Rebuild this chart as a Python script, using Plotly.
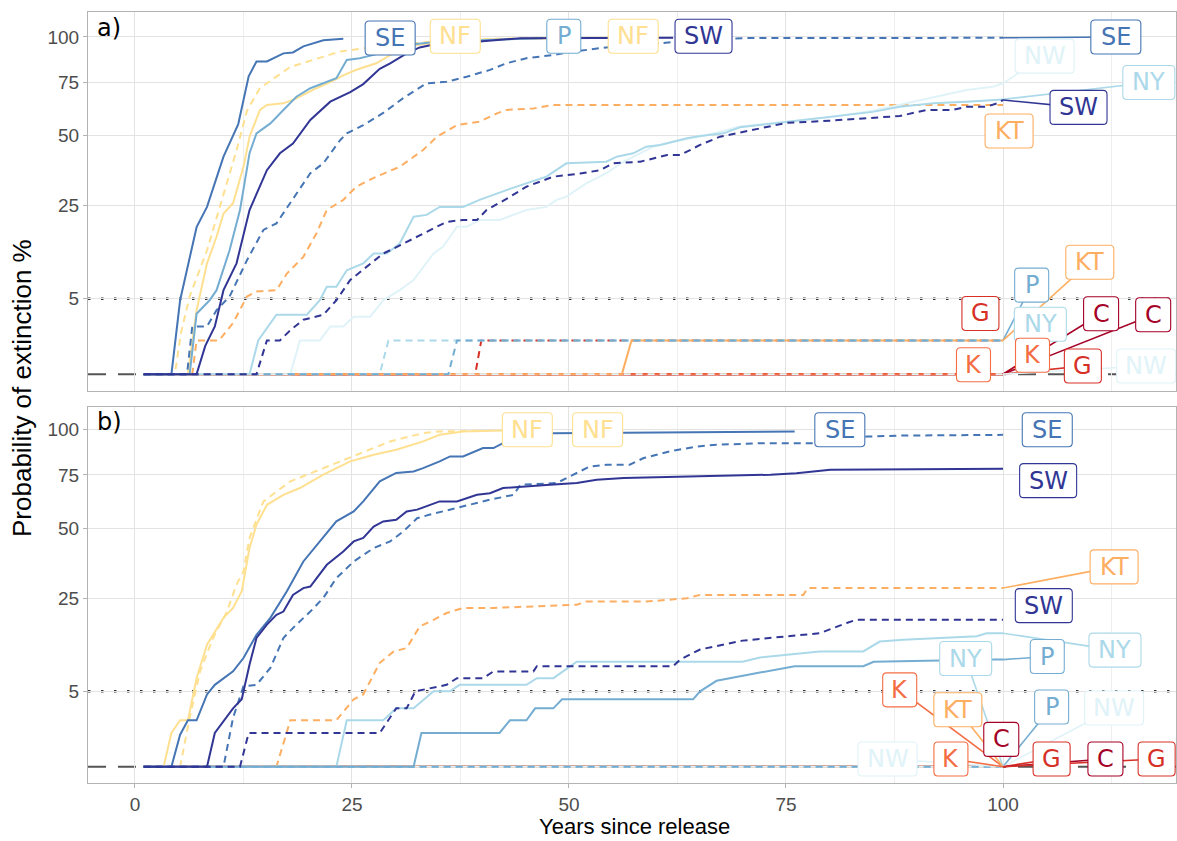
import numpy as np
import plotly.graph_objects as go
from plotly.subplots import make_subplots

# ---------------- data ----------------
AREAS = ["C", "G", "K", "KT", "NF", "NW", "NY", "P", "SE", "SW"]
AREA_COLORS = ["#a50026", "#d73027", "#f46d43", "#fdae61", "#fee090",
               "#e0f3f8", "#abd9e9", "#74add1", "#4575b4", "#313695"]
Y_TICK_VALUES = [5, 25, 50, 75, 100]
X_TICK_VALUES = [0, 25, 50, 75, 100]
THRESHOLD_PCT = 5
BASELINE_PCT = 0

# ---- panel a ----
a_C_solid_yr = [1, 100]
a_C_solid_pct = [0, 0]
a_C_dashed_yr = [1, 100]
a_C_dashed_pct = [0, 0]
a_G_solid_yr = [1, 100]
a_G_solid_pct = [0, 0]
a_G_dashed_yr = [1, 39.2, 39.9, 100]
a_G_dashed_pct = [0, 0, 1, 1]
a_K_solid_yr = [1, 100]
a_K_solid_pct = [0, 0]
a_K_dashed_yr = [1, 100]
a_K_dashed_pct = [0, 0]
a_KT_solid_yr = [1, 56.1, 57.2, 100]
a_KT_solid_pct = [0, 0, 1, 1]
a_KT_dashed_yr = [1, 6.6, 7.1, 9.7, 11.3, 12.9, 14, 16.3, 17.5, 19.4, 20.9, 22.1, 24, 25.5, 27.8,
                  30.5, 33.2, 34.8, 37.1, 39.7, 41.7, 42.8, 45.9, 48.2, 100]
a_KT_dashed_pct = [0, 0, 1, 1, 2.3, 5.3, 6, 6.2, 8.9, 12.1, 17.4, 23.7, 26.7, 30.9, 34.3,
                   37.8, 44.2, 49.6, 54.6, 56.1, 59.8, 61.4, 62.1, 63.7, 63.7]
a_NF_solid_yr = [1, 6.1, 7.1, 8.3, 9.4, 10.2, 11.3, 12.5, 13.2, 14.4, 15.2, 17.1, 18.6, 20.9, 22.5,
                 24, 25.5, 27.8, 29.4, 32.5, 37.1, 45, 54]
a_NF_solid_pct = [0, 0, 3.6, 10.8, 16.6, 22.7, 25.7, 37.8, 49.6, 61.4, 63.7, 64.5, 66.9, 71.9, 75,
                  78.5, 81.5, 85, 89.5, 95.3, 98, 99, 99.5]
a_NF_dashed_yr = [1, 4.6, 5.3, 6.3, 8.3, 10.2, 11.7, 12.9, 14.4, 17.9, 21.7, 23.6, 25.5, 29.4, 32.4, 37, 48]
a_NF_dashed_pct = [0, 0, 1.5, 5.3, 13.5, 28.7, 44, 61, 72, 83, 88.7, 91.5, 92.8, 95.3, 96.5, 98.5, 99.5]
a_NW_solid_yr = [1, 17.9, 19, 21.3, 22.5, 24, 25.2, 27.1, 28.6, 30.5, 32.1, 33.2, 34.4, 35.5, 37.1,
                 38.2, 39.7, 42, 45.1, 47.4, 48.6, 49.7, 52, 54.3, 56.3, 58.2, 59.7, 62, 65.9, 69.7,
                 75, 80, 85, 88.1, 92, 95.8, 98.9, 100]
a_NW_solid_pct = [0, 0, 1, 1, 2, 2, 2.9, 2.9, 4.8, 6.2, 7.8, 10.1, 12.8, 14.3, 19.1,
                  19.1, 20.9, 20.9, 23.7, 24.6, 26.7, 27.7, 32, 35.5, 39.7, 42.9, 45.5, 47.5, 50.3, 53.9,
                  56, 58, 61, 63.7, 67.4, 71, 72.7, 74.4]
a_NW_dashed_yr = [1, 100]
a_NW_dashed_pct = [0, 0]
a_NY_solid_yr = [1, 13.2, 14.2, 16.3, 19.8, 21.3, 22.1, 23.2, 24.4, 26.3, 27.5, 29, 30.5, 32.1, 33.6,
                 35.1, 37.8, 39.7, 42.8, 45.1, 47.4, 49.7, 54.3, 55.5, 57.4, 58.9, 60.5, 62, 63.6, 65.1,
                 67.8, 69.7, 75, 80, 85, 88.1, 92, 95.8, 98.1, 100]
a_NY_solid_pct = [0, 0, 1, 3.1, 3.1, 4.8, 6.7, 6.7, 9.5, 10.8, 12.8, 12.8, 15, 21.8, 22.3,
                  24.6, 24.6, 26.7, 29.8, 32, 34.3, 39.1, 39.7, 41.6, 42.9, 45.5, 46.2, 47.5, 48.9, 49.9,
                  51, 53.6, 56, 58, 60.5, 62.9, 64.5, 65.3, 66.1, 66.4]
a_NY_dashed_yr = [1, 28.2, 29.2, 100]
a_NY_dashed_pct = [0, 0, 1, 1]
a_P_solid_yr = [1, 6.3, 7.1, 8.6, 9.4, 10.9, 12.1, 13.2, 14, 15.6, 17.1, 18.6, 20.2, 23.2, 24.4,
                25.9, 28.2, 31.3, 35.1, 42.8, 47]
a_P_solid_pct = [0, 0, 3.2, 4.8, 6.2, 13.5, 23.7, 42.9, 51, 55.3, 61.4, 67.7, 71.9, 77, 86.8,
                 87.8, 90.5, 95.3, 97.3, 98.6, 99.3]
a_P_dashed_yr = [1, 36.1, 37.1, 100]
a_P_dashed_pct = [0, 0, 1, 1]
a_SE_solid_yr = [1, 4.2, 5.2, 7.1, 8.3, 10.2, 11.9, 13.1, 14, 15.2, 17.1, 18.2, 19.4, 21.7, 24]
a_SE_solid_pct = [0, 0, 4.8, 19, 24.6, 41.6, 55, 78, 86, 86, 90.5, 91, 94.5, 98, 99]
a_SE_dashed_yr = [1, 6, 6.6, 8.3, 9.4, 10.9, 12.9, 14.8, 16.3, 17.9, 20.2, 21.7, 23.6, 24.4, 26.3,
                  28.6, 30.9, 33.6, 35.9, 38.2, 40.9, 42.8, 45.1, 48.2, 50.5, 54.3, 58.2, 60.5, 62.4, 66,
                  70, 100]
a_SE_dashed_pct = [0, 0, 2, 2, 3.6, 5.3, 11.4, 18.3, 20, 25.7, 35.5, 39.1, 48, 51, 54.5,
                   60, 67, 74.4, 75.2, 77.8, 81.4, 85, 87.8, 89.6, 91.5, 93.9, 95.3, 96.3, 97.3, 98.5,
                   99.3, 99.5]
a_SW_solid_yr = [1, 7.1, 8.1, 9.2, 10.2, 11.7, 13.2, 15.2, 16.7, 18.2, 20.2, 22.5, 24.8, 26.3, 28.2,
                 29.4, 31.3, 32.8, 35.1, 39.7, 42.8, 44.4, 62]
a_SW_solid_pct = [0, 0, 0.7, 2, 6.2, 10.8, 23.7, 36.6, 42.9, 46.8, 56.8, 65.3, 70, 74, 82,
                  85, 90.5, 93.9, 96.3, 97.3, 98.6, 99.2, 99.6]
a_SW_dashed_yr = [1, 14, 15.2, 16.7, 17.9, 19.4, 21.7, 23.2, 24.8, 26.7, 28.6, 29.4, 31.7, 33.6, 35.9,
                  37.8, 39.4, 40.5, 42.8, 45.1, 48.2, 51.3, 53.6, 55.1, 58.2, 61.3, 62.8, 65.1, 67.4, 69.3,
                  72, 75, 80, 84, 88.1, 91.2, 94.2, 95.8, 98.1, 99.3, 100]
a_SW_dashed_pct = [0, 0, 1, 1, 1.7, 2.6, 3.1, 4.8, 7.8, 10.1, 12.8, 13.5, 15.8, 17.8, 20.4,
                   20.9, 20.9, 23.7, 27, 30.9, 34.3, 35.4, 36.6, 39.1, 39.7, 42.2, 42.2, 46.2, 49.6, 51,
                   53, 55.5, 56.5, 57.5, 58.6, 61.4, 61.4, 62.9, 62.9, 64.5, 66.1]

# ---- panel b ----
b_C_solid_yr = [1, 100]
b_C_solid_pct = [0, 0]
b_C_dashed_yr = [1, 100]
b_C_dashed_pct = [0, 0]
b_G_solid_yr = [1, 100]
b_G_solid_pct = [0, 0]
b_G_dashed_yr = [1, 100]
b_G_dashed_pct = [0, 0]
b_K_solid_yr = [1, 100]
b_K_solid_pct = [0, 0]
b_K_dashed_yr = [1, 100]
b_K_dashed_pct = [0, 0]
b_KT_solid_yr = [1, 100]
b_KT_solid_pct = [0, 0]
b_KT_dashed_yr = [1, 16.3, 17.9, 23.2, 25.2, 26.3, 28.2, 29.8, 31.3, 32.8, 34.4, 35.9, 37.8, 41.3,
                  50.9, 52, 58.9, 63.6, 65.1, 77, 77.5, 100]
b_KT_dashed_pct = [0, 0, 1.9, 1.9, 4, 4.6, 9.5, 11.7, 12.4, 17.3, 19, 20.8, 22.2, 22.2,
                   23.1, 24, 24, 25, 26, 26, 28.1, 28.1]
b_NF_solid_yr = [1, 3.3, 4.2, 5.2, 6.1, 7.1, 8.3, 10.2, 11.3, 12.3, 13.2, 14, 15.2, 17.1, 19,
                 21.7, 24.8, 27.5, 30.1, 33.2, 35.1, 37.8, 42.4]
b_NF_solid_pct = [0, 0, 1, 1.9, 1.9, 6.9, 13.1, 19.5, 22.2, 27.1, 42.1, 51.6, 60.4, 65.1, 68.4,
                  75.1, 82.1, 85.7, 88.5, 93.2, 97, 99, 99.5]
b_NF_dashed_yr = [1, 5.2, 6.3, 7.5, 9, 10.6, 11.7, 12.5, 13.2, 14.8, 17.9, 21.7, 25.5, 29.4, 33.2, 35.1, 40]
b_NF_dashed_pct = [0, 0, 2.1, 8, 14.6, 21.2, 29.2, 33.6, 46.1, 62, 71.7, 78.5, 85.7, 93.2, 98, 99, 99.5]
b_NW_solid_yr = [1, 100]
b_NW_solid_pct = [0, 0]
b_NW_dashed_yr = [1, 100]
b_NW_dashed_pct = [0, 0]
b_NY_solid_yr = [1, 23.2, 24.4, 28.6, 30.1, 32.1, 34.4, 36.3, 37.4, 45.1, 46.3, 48.2, 50.9, 65.1,
                 70, 72, 78.9, 83.9, 85.8, 88.5, 97, 98.1, 100]
b_NY_solid_pct = [0, 0, 1.9, 1.9, 3, 3, 5, 5, 5.9, 5.9, 6.9, 6.9, 9.7, 9.7,
                  9.7, 10.5, 11.7, 11.7, 13.8, 14.2, 15, 15.7, 15.7]
b_NY_dashed_yr = [1, 100]
b_NY_dashed_pct = [0, 0]
b_P_solid_yr = [1, 32.1, 33, 42, 43.2, 45.1, 46.1, 48.2, 49.2, 64.3, 65.1, 67, 72, 76, 83.9, 85.1, 98.9, 100]
b_P_solid_pct = [0, 0, 1, 1, 1.9, 1.9, 3, 3, 4, 4, 5, 6.5, 7.8, 8.9, 8.9, 9.7, 10.1, 10.1]
b_P_dashed_yr = [1, 100]
b_P_dashed_pct = [0, 0]
b_SE_solid_yr = [1, 4.2, 5.2, 6.1, 7.1, 8.3, 9.2, 11.3, 12.5, 14, 15.6, 17.5, 19.4, 21.3, 23.2,
                 25.2, 26.3, 28.2, 30.1, 32.1, 33.2, 35.1, 36.3, 37.8, 40.1, 41.3, 42.4, 45, 48.2, 76]
b_SE_solid_pct = [0, 0, 0.9, 1.9, 1.9, 4.6, 5.9, 8, 10.4, 15.3, 19.5, 27.1, 37.1, 44.7, 53,
                  57.4, 62, 71.7, 76, 76.8, 78.5, 82.1, 84.8, 84.8, 89.4, 89.4, 92.2, 96, 98, 99]
b_SE_dashed_yr = [1, 10.2, 11.3, 12.5, 14, 15.6, 17.1, 18.6, 20.2, 21.7, 23.2, 25.2, 27.5, 29.4, 30.9,
                  32.5, 34, 37.8, 40.9, 43.6, 44.4, 48.6, 50.5, 52.4, 54.3, 57, 58.6, 61.6, 64.7, 67,
                  72.4, 78.2, 84.3, 88.5, 100]
b_SE_dashed_pct = [0, 0, 2.1, 5.7, 5.9, 8.6, 14.6, 17.8, 21.2, 25.1, 31.3, 37.1, 42.1, 44.7, 48.7,
                   54.4, 56, 59.6, 62.8, 65.1, 70, 70.9, 75.1, 79.4, 80.3, 80.3, 83.9, 87.6, 90.3, 91.3,
                   92.2, 92.2, 96, 96.6, 97]
b_SW_solid_yr = [1, 8.3, 9.2, 10.2, 11.3, 12.3, 13.2, 14, 15.2, 16.3, 17.1, 18.2, 19.4, 20.2, 22.1,
                 24, 25.2, 26.3, 27.5, 28.6, 30.1, 31.3, 32.5, 35.1, 37.1, 39.4, 40.9, 42.4, 44.4, 47.8,
                 50.9, 53.2, 56.3, 64.7, 73.2, 76.2, 80.1, 100]
b_SW_solid_pct = [0, 0, 1, 1.8, 3, 4, 9.2, 14.6, 17.8, 20.3, 21.2, 26, 28.1, 28.6, 35.9,
                  40.8, 44.7, 46.1, 50.8, 53, 53.7, 57.4, 58.2, 62, 62, 65.1, 65.9, 68.4, 69.1, 70,
                  70.9, 72.5, 73.4, 74.2, 75.1, 75.9, 77.7, 78.2]
b_SW_dashed_yr = [1, 12.1, 13.1, 28.2, 30.1, 31.3, 32.3, 35.9, 37.1, 40.1, 41.3, 45.9, 46.3, 62,
                  62.8, 65.1, 70, 78.9, 82, 83.1, 100]
b_SW_dashed_pct = [0, 0, 1, 1, 3, 3, 5, 5.9, 6.9, 6.9, 8, 8, 8.9, 8.9,
                   10.1, 12.1, 14, 15.7, 18.2, 19, 19]

# ---------------- label placement (layout, not data) ----------------
# (panel, area, linetype): (label x in years, label y in sqrt-% units, draw segment)
LABEL_POS = {
    ("a", "SE", "solid"): (29.4, 9.97, False),
    ("a", "NF", "dashed"): (36.9, 10.02, False),
    ("a", "P", "solid"): (49.4, 10.02, False),
    ("a", "NF", "solid"): (57.4, 10.02, False),
    ("a", "SW", "solid"): (65.5, 10.02, False),
    ("a", "SE", "dashed"): (113.0, 10.0, True),
    ("a", "NW", "solid"): (104.8, 9.43, True),
    ("a", "NY", "solid"): (116.8, 8.65, True),
    ("a", "SW", "dashed"): (108.7, 7.91, True),
    ("a", "KT", "dashed"): (100.7, 7.21, False),
    ("a", "P", "dashed"): (103.3, 2.64, True),
    ("a", "KT", "solid"): (110.0, 3.32, True),
    ("a", "G", "dashed"): (97.4, 1.80, False),
    ("a", "NY", "dashed"): (104.3, 1.48, False),
    ("a", "K", "solid"): (96.6, 0.28, False),
    ("a", "K", "dashed"): (103.4, 0.56, True),
    ("a", "C", "solid"): (111.3, 1.79, True),
    ("a", "C", "dashed"): (117.3, 1.76, True),
    ("a", "G", "solid"): (109.2, 0.24, True),
    ("a", "NW", "dashed"): (116.5, 0.24, True),
    ("b", "NF", "solid"): (45.2, 10.0, False),
    ("b", "NF", "dashed"): (53.3, 10.0, False),
    ("b", "SE", "solid"): (81.2, 10.0, False),
    ("b", "SE", "dashed"): (105.1, 10.0, False),
    ("b", "SW", "solid"): (105.2, 8.49, False),
    ("b", "KT", "dashed"): (112.8, 5.93, True),
    ("b", "SW", "dashed"): (104.7, 4.78, False),
    ("b", "NY", "solid"): (112.9, 3.46, True),
    ("b", "P", "solid"): (105.1, 3.27, True),
    ("b", "NY", "dashed"): (95.7, 3.21, True),
    ("b", "K", "solid"): (88.1, 2.28, True),
    ("b", "KT", "solid"): (94.8, 1.69, True),
    ("b", "C", "solid"): (99.8, 0.81, False),
    ("b", "P", "dashed"): (105.6, 1.77, True),
    ("b", "NW", "solid"): (112.8, 1.74, True),
    ("b", "NW", "dashed"): (86.7, 0.23, True),
    ("b", "K", "dashed"): (94.0, 0.23, True),
    ("b", "G", "solid"): (105.6, 0.23, True),
    ("b", "C", "dashed"): (111.8, 0.23, True),
    ("b", "G", "dashed"): (117.7, 0.23, True),
}
BOX_W = {"SE": 50, "NF": 50, "P": 34, "SW": 57, "NW": 59, "NY": 52, "KT": 48, "G": 37, "K": 34, "C": 35}
BOX_H = 34

# ---------------- figure ----------------
color_of = dict(zip(AREAS, AREA_COLORS))
g = globals()

fig = make_subplots(rows=2, cols=1, shared_xaxes=True, vertical_spacing=0.02)

W, H = 1177, 841
L, R, T, B = 88, 1, 12, 58
plot_w = W - L - R
plot_h = H - T - B
a_dom = [(plot_h - 379) / plot_h, 1.0]
b_dom = [0.0, 376.5 / plot_h]
A_YRANGE = [-0.5, 10.74]
B_YRANGE = [-0.484, 10.69]
XRANGE = [-5.41, 119.93]

for panel, row in (("a", 1), ("b", 2)):
    for area in AREAS:
        for lt in ("solid", "dashed"):
            yr = g[f"{panel}_{area}_{lt}_yr"]
            pct = g[f"{panel}_{area}_{lt}_pct"]
            fig.add_trace(go.Scatter(
                x=yr, y=np.sqrt(np.array(pct, dtype=float)), mode="lines",
                line=dict(color=color_of[area], width=2,
                          dash="solid" if lt == "solid" else "7px,5px"),
                showlegend=False, hoverinfo="skip"), row=row, col=1)

# segments from line end to label
for (panel, area, lt), (lx, ly, seg) in LABEL_POS.items():
    if not seg:
        continue
    yr = g[f"{panel}_{area}_{lt}_yr"]
    pct = g[f"{panel}_{area}_{lt}_pct"]
    row = 1 if panel == "a" else 2
    fig.add_trace(go.Scatter(
        x=[yr[-1], lx], y=[np.sqrt(pct[-1]), ly], mode="lines",
        line=dict(color=color_of[area], width=1.6),
        showlegend=False, hoverinfo="skip"), row=row, col=1)

shapes = []
annotations = []


def rounded_rect(w, h, r=4):
    a, b = w / 2, h / 2
    return (f"M {-a + r},{-b} L {a - r},{-b} Q {a},{-b} {a},{-b + r} "
            f"L {a},{b - r} Q {a},{b} {a - r},{b} L {-a + r},{b} Q {-a},{b} {-a},{b - r} "
            f"L {-a},{-b + r} Q {-a},{-b} {-a + r},{-b} Z")


for (panel, area, lt), (lx, ly, seg) in LABEL_POS.items():
    xr = "x" if panel == "a" else "x2"
    yrf = "y" if panel == "a" else "y2"
    col = color_of[area]
    shapes.append(dict(type="path", xref=xr, yref=yrf, xsizemode="pixel", ysizemode="pixel",
                       xanchor=lx, yanchor=ly, path=rounded_rect(BOX_W[area], BOX_H),
                       fillcolor="white", line=dict(color=col, width=1.1), layer="above"))
    annotations.append(dict(x=lx, y=ly, xref=xr, yref=yrf, text=area, showarrow=False,
                            xanchor="center", yanchor="middle",
                            font=dict(family="DejaVu Sans", size=24, color=col)))

# reference lines (5 % dotted, 0 % dashed)
for yref, dom in (("y", "x domain"), ("y2", "x2 domain")):
    shapes.append(dict(type="line", xref=dom, yref=yref, x0=0, x1=1,
                       y0=np.sqrt(THRESHOLD_PCT), y1=np.sqrt(THRESHOLD_PCT),
                       line=dict(color="#333333", width=2.5, dash="2.5px,10.5px"), layer="below"))
    shapes.append(dict(type="line", xref=dom, yref=yref, x0=0, x1=1,
                       y0=np.sqrt(BASELINE_PCT), y1=np.sqrt(BASELINE_PCT),
                       line=dict(color="#555555", width=2, dash="18px,12px"), layer="below"))

# panel tags
annotations.append(dict(x=0.006, y=1.0, xref="x domain", yref="y domain", text="a)", showarrow=False,
                        xanchor="left", yanchor="top", font=dict(family="DejaVu Sans", size=24, color="black")))
annotations.append(dict(x=0.006, y=1.0, xref="x2 domain", yref="y2 domain", text="b)", showarrow=False,
                        xanchor="left", yanchor="top", font=dict(family="DejaVu Sans", size=24, color="black")))

# axis titles (pixel positions converted to paper coordinates)
annotations.append(dict(x=(22 - L) / plot_w, y=(T + plot_h - 388) / plot_h, xref="paper", yref="paper",
                        text="Probability of extinction %", textangle=-90, showarrow=False,
                        xanchor="center", yanchor="middle",
                        font=dict(family="Liberation Sans", size=26, color="black")))
annotations.append(dict(x=(634 - L) / plot_w, y=(T + plot_h - 841) / plot_h, xref="paper",
                        yref="paper", text="Years since release", showarrow=False,
                        xanchor="center", yanchor="bottom",
                        font=dict(family="Liberation Sans", size=22, color="black")))

axis_common = dict(showline=True, linecolor="#b3b3b3", linewidth=1, mirror=True,
                   gridcolor="#e3e3e3", gridwidth=1, zeroline=False)
ytickvals = list(np.sqrt(Y_TICK_VALUES))
yticktext = [str(v) for v in Y_TICK_VALUES]
tickfont = dict(family="Liberation Sans", size=19, color="#4d4d4d")

fig.update_layout(
    width=W, height=H, margin=dict(l=L, r=R, t=T, b=B),
    paper_bgcolor="white", plot_bgcolor="white",
    showlegend=False, shapes=shapes, annotations=annotations,
    font=dict(family="Liberation Sans", color="#4d4d4d"),
    xaxis=dict(range=XRANGE, tickvals=X_TICK_VALUES, showticklabels=False, ticks="",
               minor=dict(dtick=12.5, tick0=0, showgrid=True, gridcolor="#eeeeee", gridwidth=0.8),
               **axis_common),
    xaxis2=dict(range=XRANGE, tickvals=X_TICK_VALUES, ticks="outside", ticklen=4, tickcolor="#b3b3b3",
                tickfont=tickfont,
                minor=dict(dtick=12.5, tick0=0, showgrid=True, gridcolor="#eeeeee", gridwidth=0.8),
                **axis_common),
    yaxis=dict(domain=a_dom, range=A_YRANGE, tickvals=ytickvals, ticktext=yticktext,
               ticks="outside", ticklen=4, tickcolor="#b3b3b3", tickfont=tickfont, **axis_common),
    yaxis2=dict(domain=b_dom, range=B_YRANGE, tickvals=ytickvals, ticktext=yticktext,
                ticks="outside", ticklen=4, tickcolor="#b3b3b3", tickfont=tickfont, **axis_common),
)

fig.write_html("out.html", config={"displayModeBar": False},
               post_script="document.body.style.margin='0px';document.body.style.overflow='hidden';")
